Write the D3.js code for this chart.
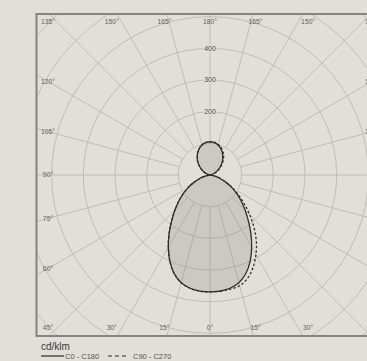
<!DOCTYPE html>
<html>
<head>
<meta charset="utf-8">
<script src="https://cdn.jsdelivr.net/npm/d3@7"></script>
<style>
  html, body { margin: 0; padding: 0; background: #e2dfd8; }
  svg { display: block; font-family: "Liberation Sans", Arial, sans-serif; }
  .grid { fill: none; stroke: #bcb9b2; stroke-width: 0.9; }
  .ang-label { font-size: 6.8px; fill: #62615d; }
  .ring-label { font-size: 6.8px; fill: #4a4946; }
</style>
</head>
<body>
<div id="chart"></div>
<script>
// ---- data (cd/klm) ----
// gamma angle measured from straight down (0) to straight up (180)
const gammaAngles = [0, 5, 10, 15, 20, 25, 30, 35, 40, 45, 50, 55, 60, 65, 70, 75, 80, 85, 90,
    95, 100, 105, 110, 115, 120, 125, 130, 135, 140, 145, 150, 155, 160, 165, 170, 175, 180];
const c0Values   = [369, 368, 363, 352, 331, 300, 263, 225, 188, 157, 129, 103, 80, 57, 37, 21, 10, 3, 0,
    1, 3, 7, 12, 19, 26, 35, 43, 53, 62, 70, 79, 86, 93, 98, 102, 104, 105];
const c180Values = [369, 368, 363, 352, 331, 300, 263, 225, 188, 157, 129, 103, 80, 57, 37, 21, 10, 3, 0,
    1, 3, 7, 12, 19, 26, 35, 43, 53, 62, 70, 79, 86, 93, 98, 102, 104, 105];
const c90Values  = [369, 368, 366, 362, 347, 322, 290, 255, 216, 177, 141, 110, 83, 58, 37, 21, 10, 3, 0,
    1, 3, 8, 13, 21, 29, 38, 47, 57, 66, 75, 83, 90, 96, 100, 103, 105, 105];
const c270Values = [369, 368, 363, 352, 331, 300, 263, 225, 188, 157, 129, 103, 80, 57, 37, 21, 10, 3, 0,
    1, 3, 7, 12, 19, 26, 35, 43, 53, 62, 70, 79, 86, 93, 98, 102, 104, 105];

const ringValues = [100, 200, 300, 400, 500, 600, 700];
const ringLabels = [200, 300, 400];
const spokeAngles = [0, 15, 30, 45, 60, 75, 90, 105, 120, 135, 150, 165, 180];
const topLabels = [135, 150, 165, 180, 165, 150, 135];
const sideLabels = [120, 105, 90, 75, 60];
const bottomLabels = [45, 30, 15, 0, 15, 30, 45];
const legendItems = ["C0 - C180", "C90 - C270"];
const unitLabel = "cd/klm";

// ---- layout ----
const W = 367, H = 361;
const cx = 210, cy = 175;
const frame = { x0: 36.5, x1: 383.5, y0: 14, y1: 336 };

const r = d3.scaleLinear().domain([0, 700]).range([0, 221.7]);
const rad = d => d * Math.PI / 180;

const svg = d3.select("#chart").append("svg")
    .attr("width", W)
    .attr("height", H);

svg.append("defs").append("clipPath").attr("id", "frameClip")
    .append("rect")
    .attr("x", frame.x0).attr("y", frame.y0)
    .attr("width", frame.x1 - frame.x0).attr("height", frame.y1 - frame.y0);

const plot = svg.append("g").attr("clip-path", "url(#frameClip)");
const g = plot.append("g").attr("transform", `translate(${cx},${cy})`);

// rings
g.selectAll(".ring")
    .data(ringValues)
    .enter().append("circle")
    .attr("class", "grid")
    .attr("r", d => r(d));

// spokes on both halves, starting at the first ring
const spoke = d3.lineRadial().angle(d => d.a).radius(d => d.r);
const spokes = [];
spokeAngles.forEach(s => {
    spokes.push(Math.PI - rad(s));
    if (s !== 0 && s !== 180) spokes.push(Math.PI + rad(s));
});
g.selectAll(".spoke")
    .data(spokes)
    .enter().append("path")
    .attr("class", "grid")
    .attr("d", a => spoke([{ a: a, r: r(100) }, { a: a, r: r(900) }]));

// ring value labels with a background patch (group opacity keeps text grey-scale)
const ringG = g.append("g").attr("opacity", 0.995);
ringLabels.forEach(v => {
    const t = ringG.append("text")
        .attr("class", "ring-label")
        .attr("text-anchor", "middle")
        .attr("dy", "0.35em")
        .attr("y", -r(v))
        .text(v);
    const bb = t.node().getBBox();
    ringG.insert("rect", "text")
        .attr("x", bb.x - 1).attr("y", bb.y)
        .attr("width", bb.width + 2).attr("height", bb.height)
        .attr("fill", "#e2dfd8");
});

// ---- luminous intensity curves ----
// right half is C0 / C90, left half is C180 / C270; each lobe runs once round its outline
function lowerLobe(right, left) {
    const pts = [];
    gammaAngles.forEach((gm, i) => { if (gm < 90) pts.push({ a: Math.PI - rad(gm), r: r(right[i]) }); });
    pts.push({ a: 0, r: 0 });
    for (let i = gammaAngles.length - 1; i >= 0; i--) {
        const gm = gammaAngles[i];
        if (gm < 90 && gm > 0) pts.push({ a: Math.PI + rad(gm), r: r(left[i]) });
    }
    return pts;
}
function upperLobe(right, left) {
    const pts = [{ a: 0, r: 0 }];
    gammaAngles.forEach((gm, i) => { if (gm > 90) pts.push({ a: Math.PI - rad(gm), r: r(right[i]) }); });
    for (let i = gammaAngles.length - 2; i >= 0; i--) {
        const gm = gammaAngles[i];
        if (gm > 90) pts.push({ a: Math.PI + rad(gm), r: r(left[i]) });
    }
    return pts;
}

const curve = d3.lineRadial()
    .angle(d => d.a)
    .radius(d => d.r)
    .curve(d3.curveCatmullRomClosed.alpha(0.5));

const solidLobes = [lowerLobe(c0Values, c180Values), upperLobe(c0Values, c180Values)];
const dashLobes = [lowerLobe(c90Values, c270Values), upperLobe(c90Values, c270Values)];

g.selectAll(".fill")
    .data(solidLobes)
    .enter().append("path")
    .attr("d", curve)
    .attr("fill", "rgba(120,117,108,0.2)")
    .attr("stroke", "none");

g.selectAll(".dash")
    .data(dashLobes)
    .enter().append("path")
    .attr("d", curve)
    .attr("fill", "none")
    .attr("stroke", "#2e2e2c")
    .attr("stroke-width", 1.3)
    .attr("stroke-dasharray", "2.5,2");

g.selectAll(".solid")
    .data(solidLobes)
    .enter().append("path")
    .attr("d", curve)
    .attr("fill", "none")
    .attr("stroke", "#2e2e2c")
    .attr("stroke-width", 1.3);

// ---- angle labels round the frame ----
const labels = svg.append("g").attr("opacity", 0.995);
function angLabel(x, y, txt) {
    labels.append("text")
        .attr("class", "ang-label")
        .attr("x", x).attr("y", y)
        .attr("text-anchor", "middle")
        .attr("dy", "0.35em")
        .text(txt + "°");
}
const topY = 22, bottomY = 328, sideOff = 162, vOff = 170;
topLabels.forEach((v, i) => {
    if (i === 0) angLabel(cx - sideOff, topY, v);
    else if (i === topLabels.length - 1) angLabel(cx + sideOff, topY, v);
    else {
        const off = vOff * Math.tan(rad(180 - v));
        angLabel(i < 3 ? cx - off : cx + off, topY, v);
    }
});
bottomLabels.forEach((v, i) => {
    if (i === 0) angLabel(cx - sideOff, bottomY, v);
    else if (i === bottomLabels.length - 1) angLabel(cx + sideOff, bottomY, v);
    else {
        const off = vOff * Math.tan(rad(v));
        angLabel(i < 3 ? cx - off : cx + off, bottomY, v);
    }
});
sideLabels.forEach(v => {
    const y = cy + sideOff * Math.tan(rad(90 - v));
    angLabel(cx - sideOff, y, v);
    angLabel(cx + sideOff, y, v);
});

// frame
svg.append("rect")
    .attr("x", frame.x0).attr("y", frame.y0)
    .attr("width", frame.x1 - frame.x0).attr("height", frame.y1 - frame.y0)
    .attr("fill", "none")
    .attr("stroke", "#85847f")
    .attr("stroke-width", 2);

// ---- legend ----
const legend = svg.append("g").attr("opacity", 0.995);
legend.append("text")
    .attr("x", 41).attr("y", 350)
    .attr("font-size", 10)
    .attr("fill", "#3a3a38")
    .text(unitLabel);

legend.append("line")
    .attr("x1", 41).attr("x2", 64).attr("y1", 356).attr("y2", 356)
    .attr("stroke", "#2e2e2c").attr("stroke-width", 1.2);
legend.append("text")
    .attr("x", 65).attr("y", 358.5)
    .attr("font-size", 7.5).attr("fill", "#555")
    .text(legendItems[0]);

legend.append("line")
    .attr("x1", 108).attr("x2", 128).attr("y1", 356).attr("y2", 356)
    .attr("stroke", "#2e2e2c").attr("stroke-width", 1.2)
    .attr("stroke-dasharray", "4,3");
legend.append("text")
    .attr("x", 133).attr("y", 358.5)
    .attr("font-size", 7.5).attr("fill", "#555")
    .text(legendItems[1]);
</script>
</body>
</html>
